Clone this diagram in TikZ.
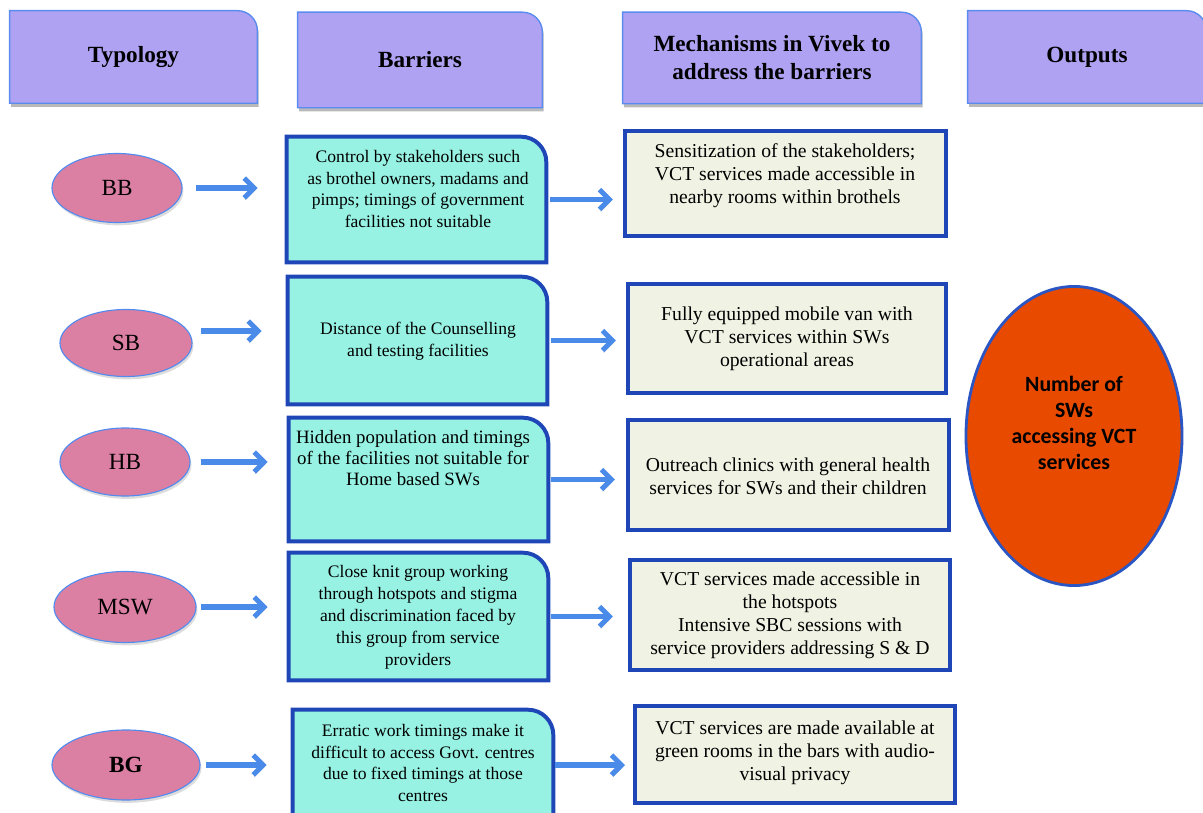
\documentclass[tikz,border=0pt]{standalone}
\usepackage{fontspec}
\setmainfont{Liberation Serif}
\newfontfamily\outfont{Carlito}
\usetikzlibrary{arrows.meta,shapes.geometric,shadows}
\pgfdeclarelayer{bg}
\pgfsetlayers{bg,main}

\definecolor{hdrfill}{RGB}{176,162,242}
\definecolor{hdrline}{RGB}{90,140,240}
\definecolor{typfill}{RGB}{219,127,163}
\definecolor{typline}{RGB}{80,140,240}
\definecolor{barfill}{RGB}{151,242,227}
\definecolor{boxline}{RGB}{30,70,182}
\definecolor{mechfill}{RGB}{240,243,228}
\definecolor{outfill}{RGB}{232,74,0}
\definecolor{outline}{RGB}{42,85,194}
\definecolor{flowblue}{RGB}{74,139,234}

% box with one rounded corner (top right)
\newcommand{\tabshape}[3]{%
  \path[#1] (#2.south west) -- (#2.north west) -- ([xshift=-#3]#2.north east)
    arc[start angle=90, end angle=0, radius=#3] -- (#2.south east) -- cycle;}

\tikzset{
  hdr/.style={font=\fontsize{16.5}{20}\selectfont\bfseries, align=center},
  hdrtab/.style={fill=hdrfill, draw=hdrline, line width=1pt,
    preaction={fill=gray!55, draw=none, transform canvas={shift={(1pt,-2.5pt)}}}},
  typ/.style={ellipse, fill=typfill, draw=typline, line width=0.8pt,
    font=\fontsize{16.5}{19}\selectfont,
    drop shadow={shadow xshift=1pt, shadow yshift=-2pt, fill=gray!55}},
  bartab/.style={fill=barfill, draw=boxline, line width=2.8pt},
  mechbox/.style={rectangle, fill=mechfill, draw=boxline, line width=2.8pt},
  txt/.style={font=\fontsize{12.5}{15.6}\selectfont, align=center},
  bigtxt/.style={font=\fontsize{14}{16.4}\selectfont, align=center},
  flow/.style={draw=flowblue, line width=3.6pt, -{Straight Barb[length=7pt,width=14pt]},
    preaction={draw=gray!50, transform canvas={shift={(0.8pt,-1.5pt)}}}},
}

\begin{document}
\begin{tikzpicture}[x=0.025cm, y=-0.025cm]
  \useasboundingbox (0,0) rectangle (1203,813);

  % column headers
  \node (typology) [hdr, minimum width=6.175cm, minimum height=2.3cm] at (133.5,57) {Typology};
  \node (barriers) [hdr, minimum width=6.1cm, minimum height=2.375cm] at (420,60) {Barriers};
  \node (mechs) [hdr, minimum width=7.45cm, minimum height=2.275cm] at (772,58) {Mechanisms in Vivek to\\address the barriers};
  \node (outputs) [hdr, minimum width=5.95cm, minimum height=2.3cm] at (1087,57) {Outputs};

  % typologies
  \node (bb) [typ, minimum width=3.25cm, minimum height=1.725cm] at (117,188) {BB};
  \node (sb) [typ, minimum width=3.3cm, minimum height=1.675cm] at (126,343) {SB};
  \node (hb) [typ, minimum width=3.25cm, minimum height=1.7cm] at (125,462) {HB};
  \node (msw) [typ, minimum width=3.55cm, minimum height=1.775cm] at (125,607) {MSW};
  \node (bg) [typ, minimum width=3.7cm, minimum height=1.75cm] at (126,765) {\textbf{BG}};

  % barriers
  \node (b1) [minimum width=6.475cm, minimum height=3.125cm] at (416.5,199.5) {};
  \node (b2) [minimum width=6.475cm, minimum height=3.175cm] at (417.5,340.5) {};
  \node (b3) [minimum width=6.475cm, minimum height=3.075cm] at (418.5,479.5) {};
  \node (b4) [minimum width=6.475cm, minimum height=3.175cm] at (418.5,616.5) {};
  \node (b5) [minimum width=6.5cm, minimum height=3cm] at (423,770) {};
  \node (b1txt) [txt] at (418,189) {Control by stakeholders such\\as brothel owners, madams and\\pimps; timings of government\\facilities not suitable};
  \node (b2txt) [txt] at (418,341) {Distance of the Counselling\\and testing facilities};
  \node (b3txt) [bigtxt, font=\fontsize{13.4}{15}\selectfont] at (413,458) {Hidden population and timings\\of the facilities not suitable for\\Home based SWs};
  \node (b4txt) [txt] at (418,617) {Close knit group working\\through hotspots and stigma\\and discrimination faced by\\this group from service\\providers};
  \node (b5txt) [txt] at (423,763) {Erratic work timings make it\\difficult to access Govt. centres\\due to fixed timings at those\\centres};

  % mechanisms
  \node (m1) [mechbox, minimum width=8.025cm, minimum height=2.625cm] at (785.5,183.5) {};
  \node (m2) [mechbox, minimum width=7.95cm, minimum height=2.725cm] at (787,338.5) {};
  \node (m3) [mechbox, minimum width=8.025cm, minimum height=2.75cm] at (788.5,475) {};
  \node (m4) [mechbox, minimum width=8cm, minimum height=2.75cm] at (790,615) {};
  \node (m5) [mechbox, minimum width=8cm, minimum height=2.425cm] at (795,754.5) {};
  \node (m1txt) [bigtxt] at (785,176) {Sensitization of the stakeholders;\\VCT services made accessible in\\nearby rooms within brothels};
  \node (m2txt) [bigtxt] at (787,339) {Fully equipped mobile van with\\VCT services within SWs\\operational areas};
  \node (m3txt) [bigtxt] at (788,476) {Outreach clinics with general health\\services for SWs and their children};
  \node (m4txt) [bigtxt] at (790,615) {VCT services made accessible in\\the hotspots\\Intensive SBC sessions with\\service providers addressing S \& D};
  \node (m5txt) [bigtxt] at (795,753) {VCT services are made available at\\green rooms in the bars with audio-\\visual privacy};

  % output
  \node (out) [ellipse, fill=outfill, draw=outline, line width=2pt, minimum width=5.4cm, minimum height=7.475cm] at (1074,436) {};
  \node (outtxt) [font={\outfont\fontsize{15.5}{18.5}\selectfont\bfseries}, align=center] at (1074,423) {Number of\\SWs\\accessing VCT\\services};

  \begin{pgfonlayer}{bg}
    \tabshape{hdrtab}{typology}{14pt}
    \tabshape{hdrtab}{barriers}{14pt}
    \tabshape{hdrtab}{mechs}{14pt}
    \tabshape{hdrtab}{outputs}{14pt}
    \tabshape{bartab}{b1}{18pt}
    \tabshape{bartab}{b2}{18pt}
    \tabshape{bartab}{b3}{18pt}
    \tabshape{bartab}{b4}{18pt}
    \tabshape{bartab}{b5}{18pt}
  \end{pgfonlayer}

  % arrows typology -> barrier
  \draw[flow, shorten <=0.325cm, shorten >=0.725cm] (bb.east) -- (bb.east -| b1.west);
  \coordinate (sbout) at ([yshift=0.3cm]sb.east);
  \draw[flow, shorten <=0.2cm, shorten >=0.65cm] (sbout) -- (sbout -| b2.west);
  \draw[flow, shorten <=0.25cm, shorten >=0.525cm] (hb.east) -- (hb.east -| b3.west);
  \draw[flow, shorten <=0.1cm, shorten >=0.525cm] (msw.east) -- (msw.east -| b4.west);
  \draw[flow, shorten <=0.125cm, shorten >=0.65cm] (bg.east) -- (bg.east -| b5.west);

  % arrows barrier -> mechanism
  \draw[flow, shorten <=0.1cm, shorten >=0.25cm] (b1.east) -- (b1.east -| m1.west);
  \draw[flow, shorten <=0.1cm, shorten >=0.25cm] (b2.east) -- (b2.east -| m2.west);
  \draw[flow, shorten <=0.075cm, shorten >=0.275cm] (b3.east) -- (b3.east -| m3.west);
  \draw[flow, shorten <=0.075cm, shorten >=0.375cm] (b4.east) -- (b4.east -| m4.west);
  \draw[flow, shorten <=0.05cm, shorten >=0.2cm] (b5.east |- bg) -- (bg -| m5.west);
\end{tikzpicture}
\end{document}
